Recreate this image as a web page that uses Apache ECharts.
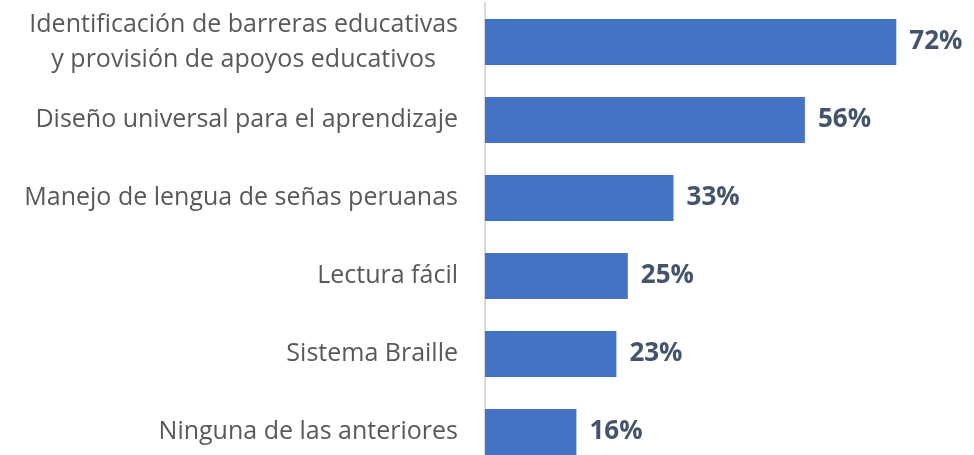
<!DOCTYPE html>
<html>
<head>
<meta charset="utf-8">
<script src="https://cdn.jsdelivr.net/npm/echarts@6/dist/echarts.min.js"></script>
<style>
  html, body { margin: 0; padding: 0; background: #fff; }
  #chart { width: 974px; height: 455px; }
</style>
</head>
<body>
<div id="chart"></div>
<script>
const categories = [
  'Identificación de barreras educativas\ny provisión de apoyos educativos',
  'Diseño universal para el aprendizaje',
  'Manejo de lengua de señas peruanas',
  'Lectura fácil',
  'Sistema Braille',
  'Ninguna de las anteriores'
];
const percentages = [72, 56, 33, 25, 23, 16];

const labelFont = { fontFamily: 'Open Sans', fontSize: 25, color: '#595959', lineHeight: 35 };

const chart = echarts.init(document.getElementById('chart'), null, { renderer: 'canvas' });

chart.setOption({
  animation: false,
  grid: { left: 485, top: 3, width: 457, height: 468, outerBoundsMode: 'none', containLabel: false },
  xAxis: {
    type: 'value',
    min: 0,
    max: 80,
    show: false
  },
  yAxis: {
    type: 'category',
    data: categories,
    inverse: true,
    axisLine: { show: true, lineStyle: { color: '#d9d9d9', width: 2 } },
    axisTick: { show: false },
    axisLabel: Object.assign({
      margin: 27,
      align: 'right',
      // multi-line labels have their lines centred within the block
      formatter: v => v.split('\n').map(line => '{c|' + line + '}').join('\n'),
      rich: { c: Object.assign({ align: 'center' }, labelFont) }
    }, labelFont)
  },
  series: [{
    type: 'bar',
    data: percentages,
    barWidth: 46,
    itemStyle: { color: '#4472C4' },
    label: {
      show: true,
      position: 'right',
      distance: 13,
      formatter: p => p.value + '%',
      fontFamily: 'Open Sans',
      fontWeight: 'bold',
      fontSize: 26,
      color: '#44546A'
    }
  }]
});
</script>
</body>
</html>
